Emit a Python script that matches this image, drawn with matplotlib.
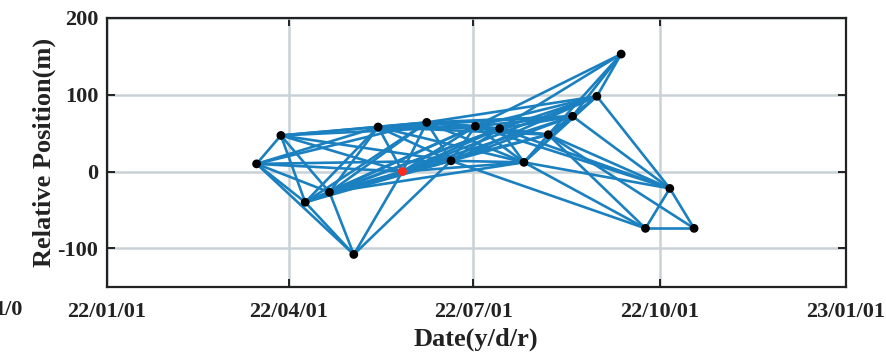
import matplotlib
matplotlib.use("Agg")
import matplotlib.pyplot as plt
import matplotlib.dates as mdates
import numpy as np
from datetime import datetime

# acquisition dates and relative positions (m)
dates = ["2022-03-16", "2022-03-28", "2022-04-09", "2022-04-21", "2022-05-03",
         "2022-05-15", "2022-05-27", "2022-06-08", "2022-06-20", "2022-07-02",
         "2022-07-14", "2022-07-26", "2022-08-07", "2022-08-19", "2022-08-31",
         "2022-09-12", "2022-09-24", "2022-10-06", "2022-10-18"]
positions = [10, 47, -40, -27, -108, 58, 0, 64, 14, 59, 56, 12, 48, 72, 98, 153, -74, -22, -74]
reference_index = 6  # red (master) image, 0-based

# interferometric pairs (1-based image numbers)
pairs = [
    (1, 2), (1, 3), (1, 4), (1, 5), (1, 6), (1, 7), (1, 8), (1, 9),
    (2, 3), (2, 4), (2, 6), (2, 7), (2, 8), (2, 9), (2, 10),
    (3, 4), (3, 5), (3, 6), (3, 7), (3, 8), (3, 9), (3, 10), (3, 11),
    (4, 5), (4, 6), (4, 7), (4, 8), (4, 9), (4, 10), (4, 11), (4, 12),
    (5, 7), (5, 9),
    (6, 7), (6, 8), (6, 9), (6, 10), (6, 11), (6, 12), (6, 13), (6, 14),
    (7, 8), (7, 9), (7, 10), (7, 11), (7, 12), (7, 13), (7, 14), (7, 15),
    (8, 9), (8, 10), (8, 11), (8, 12), (8, 13), (8, 14), (8, 15),
    (9, 10), (9, 11), (9, 12), (9, 13), (9, 14), (9, 15), (9, 17),
    (10, 11), (10, 12), (10, 13), (10, 14), (10, 15), (10, 16), (10, 18),
    (11, 12), (11, 13), (11, 14), (11, 15), (11, 16), (11, 18),
    (12, 13), (12, 14), (12, 15), (12, 17), (12, 18),
    (13, 14), (13, 15), (13, 16), (13, 17), (13, 18), (13, 19),
    (14, 15), (14, 16), (14, 18),
    (15, 16), (15, 18),
    (17, 18), (17, 19),
    (18, 19),
]

xtick_dates = ["2022-01-01", "2022-04-01", "2022-07-01", "2022-10-01", "2023-01-01"]
xtick_labels = ["22/01/01", "22/04/01", "22/07/01", "22/10/01", "23/01/01"]
yticks = [-100, 0, 100, 200]

plt.rcParams['font.family'] = ['Liberation Serif', 'DejaVu Serif']
plt.rcParams['font.weight'] = 'bold'

t = [datetime.strptime(d, "%Y-%m-%d") for d in dates]
xn = mdates.date2num(t)
yv = np.array(positions, dtype=float)

fig = plt.figure(figsize=(8.87, 3.53), dpi=100)
ax = fig.add_axes([106.7 / 887, 1 - 286.7 / 353, (846 - 106.7) / 887, (286.7 - 18) / 353])

line_color = '#1a80c0'
for a, b in pairs:
    ax.plot([xn[a - 1], xn[b - 1]], [yv[a - 1], yv[b - 1]], color=line_color, lw=1.9,
            solid_capstyle='round', zorder=2)

mask = np.ones(len(xn), bool)
mask[reference_index] = False
ax.scatter(xn[mask], yv[mask], s=40, color='black', zorder=3, edgecolors='none')
ax.scatter(xn[reference_index], yv[reference_index], s=40, color='#ff2a1a', zorder=4,
           edgecolors='none')

xt = mdates.date2num([datetime.strptime(d, "%Y-%m-%d") for d in xtick_dates])
ax.set_xlim(xt[0], xt[-1])
ax.set_ylim(-150, 200)
ax.set_xticks(xt)
ax.set_xticklabels(xtick_labels)
ax.set_yticks(yticks)
ax.set_yticklabels([str(v) for v in yticks])

ax.grid(True, color='#c8d2d6', lw=1.8, zorder=0)
ax.set_axisbelow(True)
for s in ax.spines.values():
    s.set_linewidth(1.6)
    s.set_color('#222222')
ax.tick_params(axis='both', direction='in', length=6, width=1.4, labelsize=16,
               top=True, right=True, colors='#222222', labelcolor='#222222')
ax.tick_params(axis='x', pad=11)
ax.tick_params(axis='y', pad=6)

ax.set_xlabel("Date(y/d/r)", fontsize=19, fontweight='bold', labelpad=4, color='#222222')
ax.set_ylabel("Relative Position(m)", fontsize=19, fontweight='bold', labelpad=1, color='#222222')

fig.text(-6 / 887, 1 - 310 / 353, "1/0", fontsize=16, fontweight='bold', color='#222222',
         ha='left', va='center')

fig.savefig("out.png", dpi=100)
